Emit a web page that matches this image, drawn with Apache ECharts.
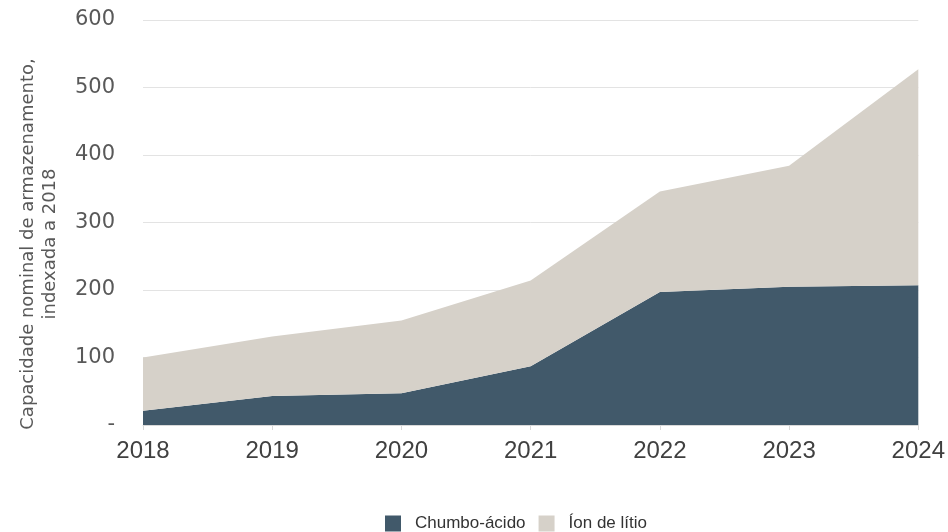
<!DOCTYPE html>
<html>
<head>
<meta charset="utf-8">
<script src="https://cdn.jsdelivr.net/npm/echarts@6/dist/echarts.min.js"></script>
<style>
  html, body { margin: 0; padding: 0; background: #ffffff; }
  #chart { width: 948px; height: 532px; }
</style>
</head>
<body>
<div id="chart"></div>
<script>
// Nominal storage capacity, indexed to 2018 = 100
const years = ['2018', '2019', '2020', '2021', '2022', '2023', '2024'];
const leadAcid = [21, 43, 47, 87, 197, 205, 207];
const lithiumIon = [79, 88, 108, 127, 149, 179, 320];
const yTicks = [0, 100, 200, 300, 400, 500, 600];

const chart = echarts.init(document.getElementById('chart'), null, { renderer: 'canvas' });

const wideFont = '"DejaVu Sans", "Liberation Sans", Arial, sans-serif';
const plainFont = '"Liberation Sans", Arial, sans-serif';

chart.setOption({
  animation: false,
  backgroundColor: '#ffffff',
  color: ['#41596a', '#d6d1c9'],
  grid: { left: 143, right: 26, top: 20, bottom: 107, containLabel: false },
  legend: {
    left: 380,
    top: 510,
    icon: 'rect',
    itemWidth: 16,
    itemHeight: 16,
    itemGap: 13,
    textStyle: { fontFamily: plainFont, fontSize: 17, color: '#333333', padding: [0, 0, 0, 9] },
    data: ['Chumbo-ácido', 'Íon de lítio']
  },
  graphic: [{
    type: 'text',
    x: 39,
    y: 244,
    rotation: Math.PI / 2,
    style: {
      text: 'Capacidade nominal de armazenamento,\nindexada a 2018',
      align: 'center',
      verticalAlign: 'middle',
      fontFamily: wideFont,
      fontSize: 18,
      lineHeight: 22,
      fill: '#595959'
    }
  }],
  xAxis: {
    type: 'category',
    data: years,
    boundaryGap: false,
    axisLine: { show: true, lineStyle: { color: '#d9d9d9', width: 1 } },
    axisTick: { show: true, length: 5, lineStyle: { color: '#d9d9d9' } },
    axisLabel: { fontFamily: plainFont, fontSize: 24, color: '#404040', margin: 14 }
  },
  yAxis: {
    type: 'value',
    min: yTicks[0],
    max: yTicks[yTicks.length - 1],
    interval: 100,
    axisLine: { show: false },
    axisTick: { show: false },
    splitLine: { show: true, lineStyle: { color: '#e3e3e3', width: 1 } },
    axisLabel: {
      fontFamily: wideFont,
      fontSize: 21,
      color: '#595959',
      margin: 28,
      formatter: v => (v === 0 ? '-' : String(v))
    }
  },
  series: [
    {
      name: 'Chumbo-ácido',
      type: 'line',
      stack: 'total',
      data: leadAcid,
      symbol: 'none',
      lineStyle: { width: 0 },
      areaStyle: { color: '#41596a', opacity: 1 }
    },
    {
      name: 'Íon de lítio',
      type: 'line',
      stack: 'total',
      data: lithiumIon,
      symbol: 'none',
      lineStyle: { width: 0 },
      areaStyle: { color: '#d6d1c9', opacity: 1 }
    }
  ]
});
</script>
</body>
</html>
